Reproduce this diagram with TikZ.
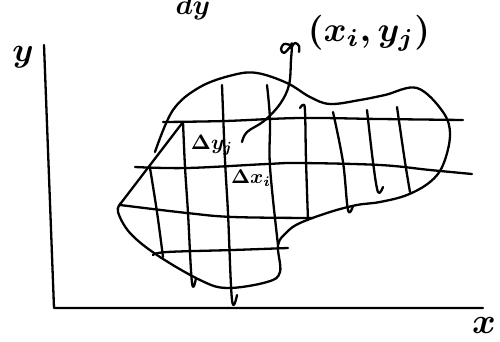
\documentclass[tikz,border=0pt]{standalone}
\usepackage{amsmath,amssymb}
\usepackage{graphicx}
\usepackage{tikz}
\usetikzlibrary{calc}
\tikzstyle{none}=[inner sep=0mm]
\tikzstyle{pen}=[line width=2.3pt,line cap=round,line join=round]
\tikzstyle{gridline}=[pen,smooth,tension=0.6]
\tikzstyle{hand}=[inner sep=0mm]
\newcommand{\hw}[2]{\scalebox{#1}{\boldmath$#2$}}

\begin{document}
\begin{tikzpicture}[x=1pt,y=-1pt]
	\useasboundingbox (0,0) rectangle (500,341);
	% labels
	\node [style=hand,anchor=base] (top) at (193,14) {\hw{2.8}{dy}};
	\node [style=hand] (ylab) at (23,57) {\hw{3.4}{y}};
	\node [style=hand] (xlab) at (484,325) {\hw{3.6}{x}};
	\node [style=hand] (pt) at (369,33) {\hw{3.5}{(x_i,y_j)}};
	\node [style=hand] (dy) at (212,145) {\hw{2.1}{\Delta y_j}};
	\node [style=hand] (dx) at (251,178) {\hw{2}{\Delta x_i}};
	\coordinate (ytop) at (44,45);
	\coordinate (origin) at (54,308);
	\coordinate (xend) at (483,308);
	\coordinate (tip) at (242,142);
	% axes
	\draw [style=pen] (ytop) to (origin) to (xend);
	% region
	\draw [style=pen] plot [smooth,tension=0.6] coordinates {(155,152) (173,110) (200,87) (233,75) (257,73) (287,83) (310,97) (330,104) (360,100) (385,95) (417,88) (443,112) (450,135) (443,165) (430,182) (407,195) (380,202) (357,205) (330,212) (300,223) (287,232) (278,245) (280,272) (267,282) (227,288) (200,280) (157,255) (130,233) (118,212) (121,203)} -- (183,122);
	% horizontal strips
	\draw [style=gridline] plot coordinates {(163,122) (225,121) (300,118) (380,119) (463,120)};
	\draw [style=gridline] plot coordinates {(135,167) (187,168) (267,164) (300,163) (380,165) (430,170) (472,174)};
	\draw [style=gridline] plot coordinates {(120,205) (187,213) (233,217) (313,218)};
	\draw [style=gridline] plot coordinates {(153,255) (167,252) (233,250) (288,248)};
	% vertical strips
	\draw [style=gridline] plot coordinates {(150,168) (157,212) (163,257)};
	\draw [style=gridline] plot coordinates {(183,122) (185,167) (188,213) (192,283) (196,278)};
	\draw [style=gridline] plot coordinates {(222,85) (225,160) (228,213) (232,300) (237,295)};
	\draw [style=gridline] plot coordinates {(267,85) (270,120) (270,167) (278,245)};
	\draw [style=gridline] plot coordinates {(300,108) (303,105) (305,111) (306,160) (308,220)};
	\draw [style=gridline] plot coordinates {(333,112) (343,162) (348,210) (353,206)};
	\draw [style=gridline] plot coordinates {(367,110) (373,162) (378,192) (383,187)};
	\draw [style=gridline] plot coordinates {(397,107) (405,162) (410,192)};
	% pointer to the sample point
	\draw [style=gridline] plot coordinates {(290,45) (284,44) (281,49) (284,53) (290,47) (292,44) (291,60) (289,85) (280,104) (264,121) (247,132) (tip)};
	\draw [style=gridline] plot coordinates {(291,48) (295,43) (299,46) (299,52)};
\end{tikzpicture}
\end{document}
